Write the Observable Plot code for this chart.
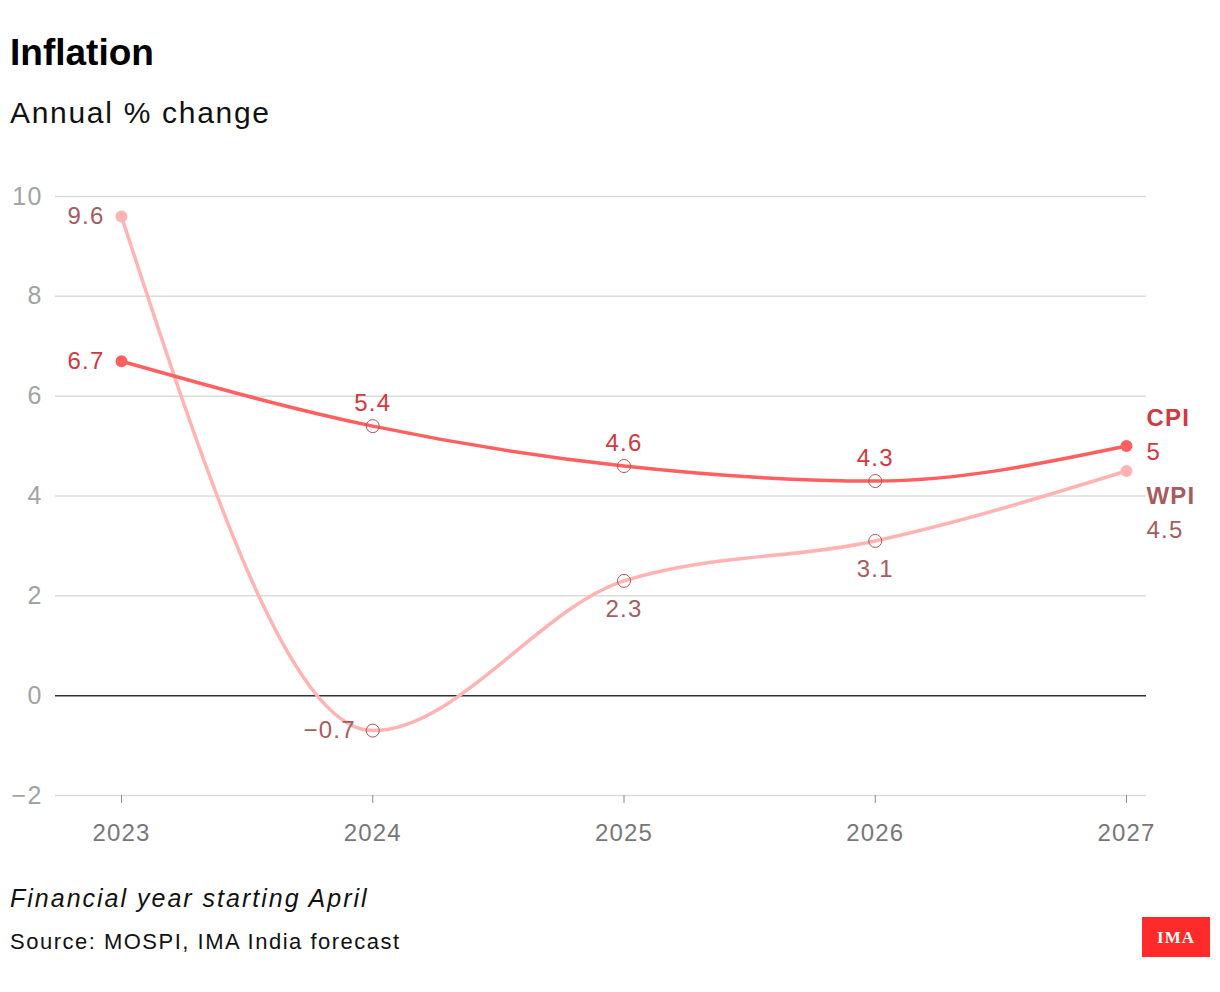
<!DOCTYPE html>
<html>
<head>
<meta charset="utf-8">
<script src="https://cdn.jsdelivr.net/npm/d3@7"></script>
<script src="https://cdn.jsdelivr.net/npm/@observablehq/plot@0.6"></script>
<style>
  body { margin: 0; background: #fff; font-family: "Liberation Sans", Arial, sans-serif; }
  #wrap { position: relative; width: 1220px; height: 992px; overflow: hidden; }
  #wrap div { line-height: 1; white-space: nowrap; }
  #title { position: absolute; left: 10px; top: 34px; font-size: 37px; font-weight: bold; color: #000; }
  #subtitle { position: absolute; left: 10px; top: 98px; font-size: 30px; letter-spacing: 1.7px; color: #111; }
  #chart { position: absolute; left: 0; top: 150px; }
  #caption { position: absolute; left: 10px; top: 886px; font-size: 25px; font-style: italic; letter-spacing: 2px; color: #111; }
  #source { position: absolute; left: 10px; top: 931px; font-size: 22px; letter-spacing: 1.5px; color: #111; }
  #logo { position: absolute; left: 1142px; top: 917px; width: 68px; height: 40px; background: #ff2a2a; color: #fff;
          font-family: "Liberation Serif", "DejaVu Serif", serif; font-weight: bold; font-size: 17px;
          display: flex; align-items: center; justify-content: center; letter-spacing: 1px; }
</style>
</head>
<body>
<div id="wrap">
  <div id="title">Inflation</div>
  <div id="subtitle">Annual % change</div>
  <div id="chart"></div>
  <div id="caption">Financial year starting April</div>
  <div id="source">Source: MOSPI, IMA India forecast</div>
  <div id="logo">IMA</div>
</div>
<script>
const years = [2023, 2024, 2025, 2026, 2027];
const cpi = [6.7, 5.4, 4.6, 4.3, 5];
const wpi = [9.6, -0.7, 2.3, 3.1, 4.5];
const yTicks = [-2, 0, 2, 4, 6, 8, 10];
const seriesNames = ["CPI", "WPI"];

const cpiColor = "#ff5f5f", wpiColor = "#ffb3b3";
const cpiText = "#d2383f", wpiText = "#a65c5f";

const cpiRows = years.map((year, i) => ({year, value: cpi[i], i, last: i === years.length - 1}));
const wpiRows = years.map((year, i) => ({year, value: wpi[i], i, last: i === years.length - 1}));
const fmt = v => v < 0 ? "\u2212" + Math.abs(v) : String(v);

const first = r => r.i === 0;
const mid = r => r.i > 0 && !r.last;
const end = r => r.last;

const chart = Plot.plot({
  width: 1220,
  height: 715,
  marginTop: 46,
  marginBottom: 70,
  marginLeft: 55,
  marginRight: 74,
  style: {fontFamily: "Liberation Sans, Arial, sans-serif", background: "#fff", letterSpacing: "1.2px", overflow: "visible"},
  x: {domain: [2023, 2027], insetLeft: 66, insetRight: 20},
  y: {domain: [-2, 10]},
  marks: [
    Plot.ruleY(yTicks.filter(d => d !== 0), {stroke: "#dcdcdc", strokeWidth: 1.5}),
    Plot.ruleY([0], {stroke: "#333", strokeWidth: 1.5}),
    Plot.axisY(yTicks, {tickSize: 0, tickPadding: 13, fontSize: 25, fill: "#a3a3a3", tickFormat: fmt, label: null}),
    Plot.axisX(years, {tickSize: 8, tickPadding: 20, fontSize: 24, fill: "#777", stroke: "#888", tickFormat: d => String(d), label: null}),
    Plot.line(wpiRows, {x: "year", y: "value", stroke: wpiColor, strokeWidth: 3.5, curve: "monotone-x"}),
    Plot.line(cpiRows, {x: "year", y: "value", stroke: cpiColor, strokeWidth: 3.5, curve: "monotone-x"}),
    Plot.dot(wpiRows.filter(r => !mid(r)), {x: "year", y: "value", r: 6, fill: wpiColor}),
    Plot.dot(cpiRows.filter(r => !mid(r)), {x: "year", y: "value", r: 6, fill: cpiColor}),
    Plot.dot(wpiRows.filter(mid), {x: "year", y: "value", r: 6.5, fill: "none", stroke: "#b0555a", strokeWidth: 1}),
    Plot.dot(cpiRows.filter(mid), {x: "year", y: "value", r: 6.5, fill: "none", stroke: "#b0555a", strokeWidth: 1}),
    // CPI labels
    Plot.text(cpiRows.filter(first), {x: "year", y: "value", text: d => fmt(d.value), textAnchor: "end", dx: -17, fontSize: 24, fill: cpiText}),
    Plot.text(cpiRows.filter(mid), {x: "year", y: "value", text: d => fmt(d.value), dy: -23, fontSize: 24, fill: cpiText}),
    Plot.text(cpiRows.filter(end), {x: "year", y: "value", text: () => seriesNames[0], textAnchor: "start", dx: 20, dy: -28, fontSize: 24, fontWeight: "bold", fill: cpiText}),
    Plot.text(cpiRows.filter(end), {x: "year", y: "value", text: d => fmt(d.value), textAnchor: "start", dx: 20, dy: 6, fontSize: 24, fill: cpiText}),
    // WPI labels
    Plot.text(wpiRows.filter(first), {x: "year", y: "value", text: d => fmt(d.value), textAnchor: "end", dx: -17, fontSize: 24, fill: wpiText}),
    Plot.text(wpiRows.filter(r => r.i === 1), {x: "year", y: "value", text: d => fmt(d.value), textAnchor: "end", dx: -17, fontSize: 24, fill: wpiText}),
    Plot.text(wpiRows.filter(r => mid(r) && r.i !== 1), {x: "year", y: "value", text: d => fmt(d.value), dy: 28, fontSize: 24, fill: wpiText}),
    Plot.text(wpiRows.filter(end), {x: "year", y: "value", text: () => seriesNames[1], textAnchor: "start", dx: 20, dy: 25, fontSize: 24, fontWeight: "bold", fill: wpiText}),
    Plot.text(wpiRows.filter(end), {x: "year", y: "value", text: d => fmt(d.value), textAnchor: "start", dx: 20, dy: 59, fontSize: 24, fill: wpiText})
  ]
});
document.getElementById("chart").appendChild(chart);
</script>
</body>
</html>
